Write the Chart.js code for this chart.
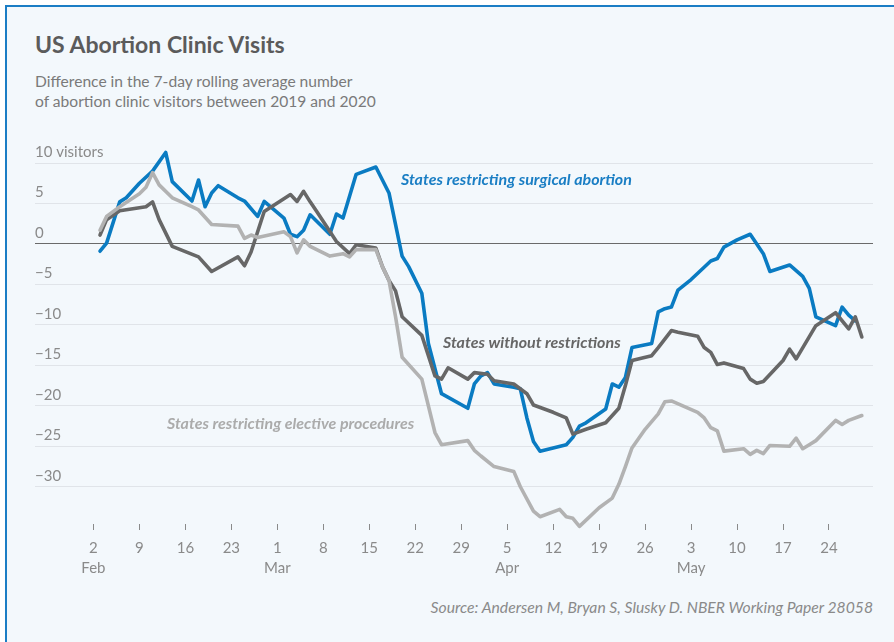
<!DOCTYPE html>
<html>
<head>
<meta charset="utf-8">
<script src="https://cdn.jsdelivr.net/npm/chart.js@4"></script>
<style>
  body { margin: 0; background: #fff; font-family: Lato, sans-serif; }
  #frame { position: absolute; left: 5px; top: 5px; width: 900px; height: 650px;
           background: #f3f8fc; border-left: 2px solid #1b7dc5; border-top: 2px solid #1b7dc5; }
  #title { position: absolute; left: 35px; top: 30px; font-size: 23px; font-weight: 700; color: #5b5b5b; }
  #subtitle { position: absolute; left: 35px; top: 71px; font-size: 15.6px; line-height: 20px; color: #7a7a7a; }
  #source { position: absolute; right: 21px; top: 598px; font-size: 15.7px; font-style: italic; color: #8a8a8a; }
  canvas { position: absolute; left: 0; top: 0; }
</style>
</head>
<body>
<div id="frame"></div>
<div id="title">US Abortion Clinic Visits</div>
<div id="subtitle">Difference in the 7-day rolling average number<br>of abortion clinic visitors between 2019 and 2020</div>
<div id="source">Source: Andersen M, Bryan S, Slusky D. NBER Working Paper 28058</div>
<canvas id="chart" width="894" height="642"></canvas>
<script>
// x values are days since Feb 2, 2020
const tickDays = [0, 7, 14, 21, 28, 35, 42, 49, 56, 63, 70, 77, 84, 91, 98, 105, 112];
const tickLabels = ['2', '9', '16', '23', '1', '8', '15', '22', '29', '5', '12', '19', '26', '3', '10', '17', '24'];
const monthLabels = ['Feb', '', '', '', 'Mar', '', '', '', '', 'Apr', '', '', '', 'May', '', '', ''];
const yTicks = [10, 5, 0, -5, -10, -15, -20, -25, -30];

const surgicalDays = [1, 2, 4, 5, 7, 9, 11, 12, 15, 16, 17, 18, 19, 22, 23, 25, 26, 29, 30, 31, 32, 33, 36, 37, 38, 40, 43, 45, 47, 48, 50, 51, 53, 57, 58, 59, 60, 61, 64, 65, 66, 67, 68, 72, 73, 74, 75, 78, 79, 80, 81, 82, 85, 86, 87, 88, 89, 91, 94, 95, 96, 98, 100, 102, 103, 106, 108, 109, 110, 113, 114, 115, 116];
const surgicalValues = [-0.9, 0.1, 5.2, 5.7, 7.5, 9.0, 11.3, 7.7, 5.3, 7.9, 4.6, 6.3, 7.2, 5.7, 5.3, 3.4, 5.25, 3.2, 1.2, 0.9, 1.7, 3.6, 1.2, 3.7, 3.2, 8.6, 9.5, 6.3, -1.5, -2.8, -6.1, -12.3, -18.5, -20.3, -17.3, -16.3, -15.9, -17.3, -17.7, -17.9, -21.5, -24.4, -25.6, -24.8, -23.9, -22.5, -22.1, -20.4, -17.3, -17.7, -16.5, -12.8, -12.3, -8.4, -8.0, -7.8, -5.7, -4.4, -2.1, -1.8, -0.4, 0.5, 1.2, -1.2, -3.4, -2.6, -4.0, -5.5, -9.0, -10.1, -7.8, -8.8, -9.5];

const noneDays = [1, 2, 4, 8, 9, 10, 12, 16, 18, 22, 23, 24, 26, 30, 31, 32, 33, 34, 37, 39, 40, 43, 44, 45, 46, 47, 50, 52, 53, 54, 57, 58, 60, 61, 64, 66, 67, 70, 72, 73, 75, 78, 80, 81, 82, 85, 86, 88, 89, 92, 93, 94, 95, 96, 99, 100, 101, 102, 105, 106, 107, 110, 113, 115, 116, 117];
const noneValues = [1.1, 3.0, 4.1, 4.6, 5.2, 3.0, -0.3, -1.6, -3.4, -1.6, -2.7, -1.0, 4.0, 6.1, 5.25, 6.5, 5.2, 4.0, 0.3, -1.2, -0.1, -0.5, -2.8, -4.5, -5.8, -9.0, -11.3, -16.3, -16.7, -15.3, -16.7, -15.9, -16.1, -16.9, -17.3, -18.5, -19.9, -20.8, -21.5, -23.5, -22.9, -22.1, -20.3, -17.5, -14.4, -13.8, -12.8, -10.7, -10.9, -11.4, -12.8, -13.4, -14.9, -14.7, -15.4, -16.7, -17.2, -17.0, -14.4, -13.0, -14.2, -10.1, -8.5, -10.5, -9.0, -11.5];

const electiveDays = [1, 2, 4, 7, 8, 9, 10, 12, 15, 16, 18, 22, 23, 24, 25, 29, 30, 31, 32, 33, 36, 38, 39, 40, 43, 44, 45, 46, 47, 50, 52, 53, 57, 58, 59, 61, 64, 65, 67, 68, 71, 72, 73, 74, 77, 79, 80, 81, 82, 84, 86, 87, 88, 92, 93, 94, 95, 96, 99, 100, 101, 102, 103, 106, 107, 108, 109, 110, 113, 114, 115, 117];
const electiveValues = [1.7, 3.4, 4.6, 6.2, 7.0, 8.8, 7.3, 5.7, 4.6, 4.2, 2.4, 2.2, 0.7, 1.1, 0.8, 1.5, 0.9, -1.1, 0.5, -0.3, -1.5, -1.2, -1.6, -0.7, -0.7, -2.8, -4.5, -9.0, -14.0, -16.7, -23.3, -24.8, -24.3, -25.5, -26.2, -27.5, -28.1, -30.0, -33.0, -33.7, -32.8, -33.7, -33.9, -34.9, -32.6, -31.4, -29.7, -27.5, -25.2, -22.9, -21.0, -19.5, -19.4, -20.8, -21.5, -22.7, -23.1, -25.6, -25.3, -26.0, -25.5, -25.9, -24.9, -25.0, -24.0, -25.3, -24.8, -24.3, -21.8, -22.3, -21.8, -21.2];

const toPoints = (days, values) => days.map((d, i) => ({ x: d, y: values[i] }));

const seriesLabels = {
    id: 'seriesLabels',
    afterDatasetsDraw(chart) {
        const c = chart.ctx;
        c.save();
        c.font = 'italic 700 16px Lato';
        c.textBaseline = 'middle';
        c.fillStyle = '#1a7ec4';
        c.fillText('States restricting surgical abortion', 401, 180);
        c.fillStyle = '#666666';
        c.fillText('States without restrictions', 443, 343);
        c.fillStyle = '#ababab';
        c.fillText('States restricting elective procedures', 167, 424);
        c.restore();
    }
};

new Chart(document.getElementById('chart'), {
    type: 'line',
    data: {
        datasets: [
            { data: toPoints(electiveDays, electiveValues), borderColor: '#b2b2b2' },
            { data: toPoints(noneDays, noneValues), borderColor: '#676767' },
            { data: toPoints(surgicalDays, surgicalValues), borderColor: '#0a7bc2' }
        ]
    },
    options: {
        responsive: false,
        animation: false,
        devicePixelRatio: 1,
        layout: { padding: { left: 35, right: 21, top: 163, bottom: 58 } },
        elements: {
            line: { borderWidth: 3.6, tension: 0, borderJoinStyle: 'round', borderCapStyle: 'round' },
            point: { radius: 0 }
        },
        datasets: { line: { clip: false } },
        plugins: { legend: { display: false }, tooltip: { enabled: false } },
        scales: {
            x: {
                type: 'linear',
                min: -8.9,
                max: 118.7,
                afterFit: s => { s.height = 60; },
                afterBuildTicks: s => { s.ticks = tickDays.map(v => ({ value: v })); },
                border: { display: false },
                grid: { drawOnChartArea: false, drawTicks: true, tickLength: 6, tickColor: '#8a8a8a', tickWidth: 1 },
                ticks: {
                    autoSkip: false,
                    maxRotation: 0,
                    padding: 8,
                    color: '#8a8a8a',
                    font: { family: 'Lato', size: 15, lineHeight: 1.35 },
                    callback: (v, i) => monthLabels[i] ? [tickLabels[i], monthLabels[i]] : tickLabels[i]
                }
            },
            y: {
                min: -34.6,
                max: 10,
                afterFit: s => { s.width = 0; },
                afterBuildTicks: s => { s.ticks = yTicks.map(v => ({ value: v })); },
                border: { display: false },
                grid: {
                    drawTicks: false,
                    color: ctx => ctx.tick && ctx.tick.value === 0 ? '#6a6a6a' : '#e0e4e9',
                    lineWidth: 1
                },
                ticks: {
                    mirror: true,
                    padding: 0,
                    labelOffset: -11,
                    color: '#8a8a8a',
                    font: { family: 'Lato', size: 15 },
                    callback: v => v === 10 ? '10 visitors' : (v < 0 ? '\u2212' + Math.abs(v) : String(v))
                }
            }
        }
    },
    plugins: [seriesLabels]
});
</script>
</body>
</html>
